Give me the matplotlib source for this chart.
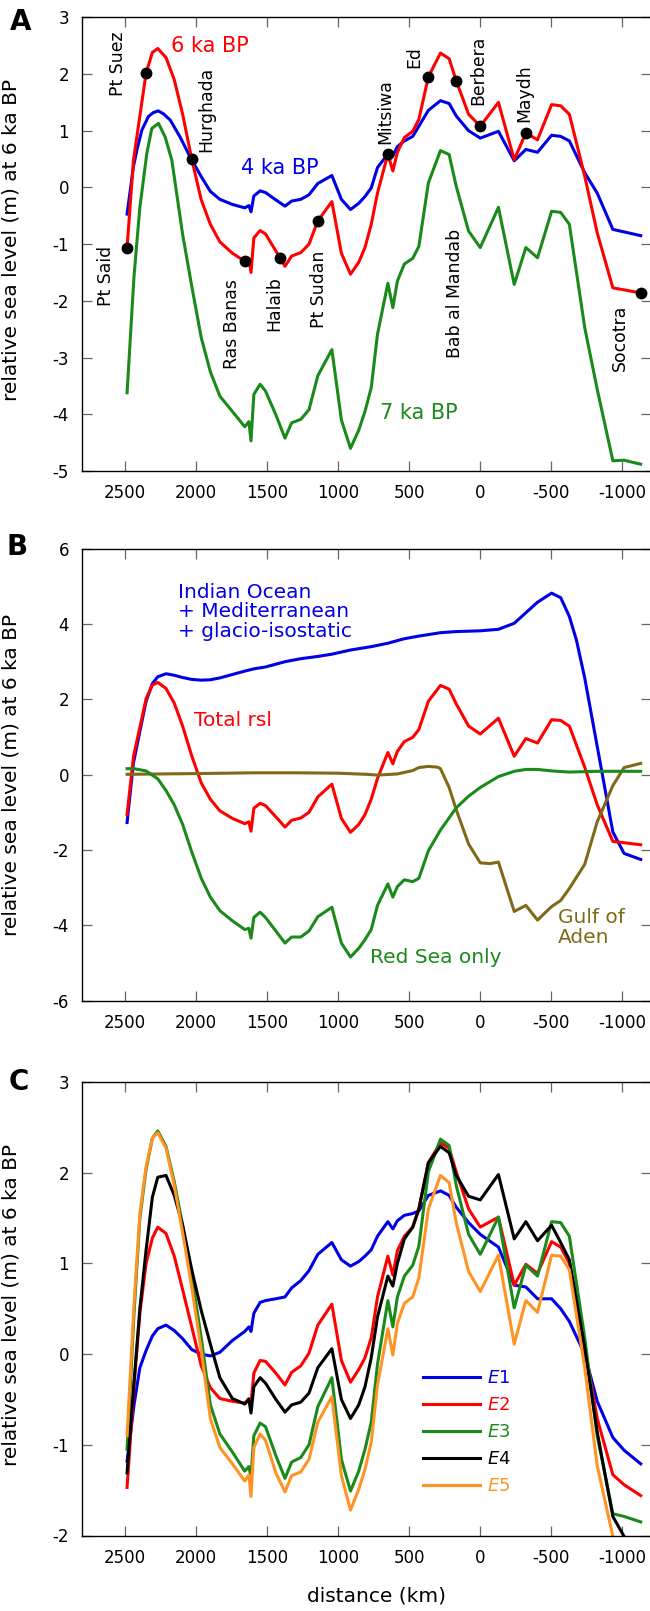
#!/usr/bin/env python3
"""
Relative sea level at 6 ka BP along the Red Sea / Gulf of Aden profile.
A: 4, 6 and 7 ka BP predictions with tide-gauge sites
B: decomposition of the 6 ka BP signal
C: sensitivity to earth models E1-E5
"""
import matplotlib
matplotlib.use("Agg")
import matplotlib.pyplot as plt

plt.rcParams['font.family'] = ['DejaVu Sans']
plt.rcParams['axes.unicode_minus'] = False
plt.rcParams['mathtext.fontset'] = 'dejavusans'

RED = '#ff0000'
BLUE = '#0000e6'
GREEN = '#1a8a1a'
BROWN = '#806a1a'
ORANGE = '#ff9324'

# ---------------- panel A ----------------
dist_6ka = [2485, 2440, 2351, 2307, 2269, 2211, 2153, 2094, 2030, 1963, 1899, 1832, 1744,
            1657, 1628, 1613, 1593, 1549, 1511, 1409, 1374, 1327, 1263, 1205, 1143, 1044,
            977, 913, 855, 811, 767, 723, 650, 615, 583, 534, 475, 432, 365, 280, 219, 169,
            82, 0, -128, -239, -321, -403, -502, -566, -627, -735, -823, -933, -1129]
rsl_6ka = [-1.06, 0.48, 2.02, 2.38, 2.45, 2.29, 1.90, 1.29, 0.50, -0.22, -0.65, -0.96, -1.16,
           -1.30, -1.25, -1.50, -0.89, -0.76, -0.82, -1.24, -1.39, -1.21, -1.15, -1.00, -0.59, -0.25,
           -1.16, -1.53, -1.32, -1.06, -0.65, -0.10, 0.59, 0.29, 0.62, 0.88, 0.99, 1.20, 1.95, 2.37, 2.27, 1.88,
           1.29, 1.08, 1.50, 0.49, 0.96, 0.84, 1.46, 1.44, 1.29, 0.20, -0.80, -1.77, -1.86]

dist_4ka = [2485, 2440, 2416, 2381, 2335, 2300, 2266, 2230, 2182, 2112, 2042, 1963, 1899, 1832,
            1744, 1657, 1628, 1613, 1593, 1549, 1511, 1438, 1374, 1327, 1263, 1205, 1143, 1044,
            977, 913, 855, 811, 767, 723, 650, 615, 583, 534, 475, 432, 365, 280, 219, 169, 82,
            0, -128, -239, -321, -403, -502, -566, -627, -735, -823, -933, -1129]
rsl_4ka = [-0.47, 0.37, 0.66, 1.01, 1.25, 1.32, 1.35, 1.30, 1.19, 0.89, 0.54, 0.19, -0.07, -0.21,
           -0.30, -0.36, -0.32, -0.43, -0.15, -0.06, -0.09, -0.22, -0.33, -0.24, -0.21, -0.13, 0.07, 0.21,
           -0.21, -0.39, -0.28, -0.16, -0.01, 0.35, 0.59, 0.56, 0.72, 0.82, 0.90, 1.08, 1.36, 1.53, 1.48, 1.26, 1.00,
           0.87, 0.99, 0.47, 0.67, 0.62, 0.92, 0.90, 0.82, 0.26, -0.10, -0.74, -0.85]

dist_7ka = [2485, 2436, 2395, 2346, 2311, 2264, 2217, 2170, 2094, 2030, 1963, 1899, 1832, 1744,
            1657, 1628, 1613, 1593, 1549, 1511, 1438, 1374, 1327, 1263, 1205, 1143, 1044, 977,
            913, 855, 811, 767, 723, 650, 615, 583, 534, 475, 432, 365, 280, 219, 169, 82, 0,
            -128, -239, -321, -403, -502, -566, -627, -735, -823, -933, -1012, -1129]
rsl_7ka = [-3.62, -1.56, -0.35, 0.60, 1.04, 1.13, 0.89, 0.48, -0.83, -1.74, -2.65, -3.25, -3.68, -3.95,
           -4.22, -4.13, -4.47, -3.65, -3.47, -3.59, -4.01, -4.42, -4.15, -4.09, -3.92, -3.32, -2.86, -4.10,
           -4.60, -4.28, -3.95, -3.53, -2.59, -1.69, -2.12, -1.65, -1.35, -1.25, -1.04, 0.08, 0.65, 0.58, 0.02, -0.77, -1.06,
           -0.35, -1.71, -1.06, -1.24, -0.42, -0.44, -0.65, -2.47, -3.56, -4.82, -4.81, -4.88]

# sites marked on the 6 ka BP curve
site_dist = [2485, 2351, 2030, 1657, 1409, 1143, 650, 365, 169, 0, -321, -1129]
site_rsl = [-1.06, 2.02, 0.50, -1.30, -1.24, -0.59, 0.59, 1.95, 1.88, 1.08, 0.96, -1.86]

# site names: (name, distance, bottom of label)
site_names = [
    ("Pt Said", 2634, -2.09), ("Pt Suez", 2547, 1.62), ("Hurghada", 1928, 0.62),
    ("Ras Banas", 1744, -3.21), ("Halaib", 1447, -2.54), ("Pt Sudan", 1132, -2.48),
    ("Mitsiwa", 665, 0.76), ("Ed", 467, 2.10), ("Berbera", 15, 1.46),
    ("Maydh", -312, 1.16), ("Bab al Mandab", 175, -3.01), ("Socotra", -983, -3.24),
]

# ---------------- panel B ----------------
dist_io = [2485, 2440, 2395, 2351, 2307, 2269, 2211, 2153, 2094, 2030, 1963, 1899, 1832, 1744,
           1657, 1593, 1511, 1374, 1263, 1143, 1044, 913, 767, 650, 534, 432, 280, 169, 0,
           -128, -239, -403, -502, -566, -627, -677, -735, -823, -933, -1012, -1129]
rsl_io = [-1.27, 0.31, 1.15, 1.95, 2.42, 2.60, 2.68, 2.64, 2.58, 2.53, 2.51, 2.52, 2.57, 2.66,
          2.75, 2.81, 2.86, 3.00, 3.08, 3.14, 3.20, 3.31, 3.40, 3.49, 3.61, 3.68, 3.77, 3.80, 3.82,
          3.86, 4.02, 4.58, 4.82, 4.70, 4.20, 3.57, 2.57, 0.75, -1.52, -2.09, -2.25]

dist_rs = [2485, 2436, 2351, 2269, 2211, 2153, 2094, 2030, 1963, 1899, 1832, 1744, 1657, 1628,
           1613, 1593, 1549, 1511, 1438, 1374, 1327, 1263, 1205, 1143, 1044, 977, 913, 855, 811,
           767, 723, 650, 615, 583, 534, 475, 432, 365, 280, 169, 82, 0, -128, -239, -321, -403,
           -502, -627, -823, -1129]
rsl_rs = [0.16, 0.16, 0.10, -0.11, -0.42, -0.80, -1.32, -2.05, -2.75, -3.25, -3.61, -3.88, -4.11, -4.08,
          -4.34, -3.79, -3.65, -3.79, -4.15, -4.47, -4.31, -4.31, -4.15, -3.77, -3.52, -4.47, -4.84, -4.61, -4.38,
          -4.11, -3.47, -2.90, -3.25, -2.97, -2.79, -2.84, -2.75, -2.02, -1.47, -0.88, -0.57, -0.34, -0.05, 0.09, 0.14, 0.14,
          0.10, 0.07, 0.09, 0.09]

dist_ga = [2485, 2000, 1600, 1300, 1000, 800, 723, 583, 475, 432, 365, 300, 280, 219, 169, 82, 0,
           -70, -128, -239, -321, -403, -502, -566, -627, -735, -823, -933, -1012, -1129]
rsl_ga = [0.01, 0.03, 0.05, 0.05, 0.04, 0.01, -0.01, 0.02, 0.11, 0.19, 0.22, 0.20, 0.16, -0.34, -0.93, -1.84, -2.34,
          -2.36, -2.32, -3.63, -3.47, -3.86, -3.50, -3.34, -3.02, -2.38, -1.25, -0.29, 0.19, 0.30]

# ---------------- panel C ----------------
dist_e = [2485, 2436, 2395, 2351, 2307, 2269, 2211, 2153, 2094, 2030, 1963, 1899, 1832, 1744,
          1657, 1628, 1613, 1593, 1549, 1511, 1438, 1374, 1327, 1263, 1205, 1143, 1044, 977,
          913, 855, 811, 767, 723, 650, 615, 583, 534, 475, 432, 365, 280, 219, 169, 82, 0,
          -128, -239, -321, -403, -502, -566, -627, -735, -823, -933, -1012, -1129]
rsl_e1 = [-1.18, -0.56, -0.15, 0.04, 0.20, 0.28, 0.32, 0.26, 0.17, 0.05, 0.00, -0.02, 0.02, 0.15,
          0.25, 0.30, 0.25, 0.45, 0.57, 0.59, 0.61, 0.63, 0.73, 0.81, 0.92, 1.10, 1.23, 1.04,
          0.97, 1.02, 1.08, 1.15, 1.30, 1.46, 1.38, 1.47, 1.53, 1.55, 1.58, 1.75, 1.80, 1.75, 1.62, 1.45, 1.32,
          1.18, 0.76, 0.74, 0.61, 0.61, 0.50, 0.36, 0.00, -0.52, -0.92, -1.06, -1.21]
rsl_e2 = [-1.47, -0.35, 0.45, 1.00, 1.28, 1.40, 1.33, 1.08, 0.71, 0.30, -0.13, -0.37, -0.49, -0.52,
          -0.54, -0.49, -0.55, -0.21, -0.07, -0.08, -0.21, -0.34, -0.20, -0.13, 0.01, 0.32, 0.55, -0.07,
          -0.31, -0.17, -0.04, 0.18, 0.63, 1.08, 0.87, 1.14, 1.30, 1.40, 1.60, 2.11, 2.33, 2.27, 2.01, 1.60, 1.40,
          1.51, 0.76, 0.99, 0.89, 1.24, 1.18, 1.00, 0.07, -0.71, -1.33, -1.44, -1.56]
rsl_e3 = [-1.05, 0.45, 1.50, 2.04, 2.38, 2.46, 2.29, 1.90, 1.42, 0.86, 0.18, -0.56, -0.88, -1.08,
          -1.29, -1.24, -1.35, -0.90, -0.76, -0.80, -1.12, -1.37, -1.19, -1.14, -1.00, -0.58, -0.26, -1.16,
          -1.51, -1.29, -1.05, -0.75, -0.11, 0.59, 0.30, 0.63, 0.86, 0.98, 1.19, 2.01, 2.37, 2.30, 1.86, 1.32, 1.10,
          1.51, 0.51, 0.98, 0.86, 1.46, 1.45, 1.30, 0.18, -0.90, -1.76, -1.79, -1.85]
rsl_e4 = [-1.31, -0.30, 0.50, 1.15, 1.73, 1.95, 1.97, 1.75, 1.42, 0.93, 0.48, 0.11, -0.26, -0.49,
          -0.55, -0.50, -0.65, -0.36, -0.26, -0.32, -0.50, -0.64, -0.56, -0.53, -0.43, -0.15, 0.06, -0.50,
          -0.71, -0.56, -0.36, -0.04, 0.41, 0.86, 0.75, 1.00, 1.27, 1.40, 1.60, 2.11, 2.29, 2.22, 1.97, 1.74, 1.70,
          1.98, 1.27, 1.46, 1.25, 1.42, 1.23, 1.04, 0.07, -0.86, -1.79, -2.01, -2.31]
rsl_e5 = [-0.90, 0.55, 1.55, 2.07, 2.38, 2.44, 2.27, 1.86, 1.34, 0.74, 0.04, -0.71, -1.03, -1.21,
          -1.40, -1.33, -1.57, -1.03, -0.88, -0.95, -1.31, -1.52, -1.34, -1.30, -1.16, -0.75, -0.47, -1.34,
          -1.72, -1.49, -1.27, -0.97, -0.34, 0.28, -0.01, 0.34, 0.56, 0.63, 0.84, 1.60, 1.97, 1.89, 1.45, 0.91, 0.69,
          1.09, 0.11, 0.59, 0.46, 1.09, 1.08, 0.93, -0.15, -1.23, -2.01, -2.39, -2.60]
model_names = [r'$\mathit{E}$1', r'$\mathit{E}$2', r'$\mathit{E}$3', r'$\mathit{E}$4', r'$\mathit{E}$5']

X_TICKS = [2500, 2000, 1500, 1000, 500, 0, -500, -1000]
YLABEL = 'relative sea level (m) at 6 ka BP'
LW = 2.2


def style_axis(ax, yticks, ylim):
    ax.set_xlim(2800, -1200)
    ax.set_ylim(*ylim)
    ax.set_xticks(X_TICKS)
    ax.set_yticks(yticks)
    ax.tick_params(direction='in', length=6.9, width=0.9, color='#666666',
                   top=True, right=True, labelsize=12, pad=9.5)
    for sp in ax.spines.values():
        sp.set_linewidth(1.0)
    ax.set_ylabel(YLABEL, fontsize=14.5)


def main():
    W, H = 650, 1611
    fig = plt.figure(figsize=(W / 100, H / 100), dpi=100)

    def rect(top, bottom):
        left, right = 82.3, 650.8
        return [left / W, 1 - bottom / H, (right - left) / W, (bottom - top) / H]

    # --- A ---
    ax1 = fig.add_axes(rect(17.3, 471))
    ax1.plot(dist_7ka, rsl_7ka, color=GREEN, lw=LW)
    ax1.plot(dist_4ka, rsl_4ka, color=BLUE, lw=LW)
    ax1.plot(dist_6ka, rsl_6ka, color=RED, lw=LW)
    ax1.plot(site_dist, site_rsl, 'o', color='black', ms=7.5, zorder=5, clip_on=False)
    for name, d, y in site_names:
        ax1.text(d, y, name, rotation=90, ha='center', va='bottom', fontsize=12.4)
    ax1.text(1905, 2.50, '6 ka BP', color=RED, fontsize=15, ha='center', va='center')
    ax1.text(1409, 0.35, '4 ka BP', color=BLUE, fontsize=15, ha='center', va='center')
    ax1.text(429, -3.98, '7 ka BP', color=GREEN, fontsize=15, ha='center', va='center')
    style_axis(ax1, range(-5, 4), (-5, 3))
    ax1.yaxis.set_label_coords(-0.108, 0.51)

    # --- B ---
    ax2 = fig.add_axes(rect(548.7, 1000.7))
    ax2.plot(dist_io, rsl_io, color=BLUE, lw=LW)
    ax2.plot(dist_6ka, rsl_6ka, color=RED, lw=LW)
    ax2.plot(dist_ga, rsl_ga, color=BROWN, lw=LW)
    ax2.plot(dist_rs, rsl_rs, color=GREEN, lw=LW)
    ax2.text(2129, 4.32, 'Indian Ocean\n+ Mediterranean\n+ glacio-isostatic', color=BLUE,
             fontsize=14.5, ha='left', va='center', linespacing=1.05)
    ax2.text(1741, 1.43, 'Total rsl', color=RED, fontsize=14.5, ha='center', va='center')
    ax2.text(773, -4.86, 'Red Sea only', color=GREEN, fontsize=14.5, ha='left', va='center')
    ax2.text(-545, -4.05, 'Gulf of\nAden', color=BROWN, fontsize=14.5, ha='left', va='center',
             linespacing=1.05)
    style_axis(ax2, range(-6, 7, 2), (-6, 6))
    ax2.yaxis.set_label_coords(-0.108, 0.5)

    # --- C ---
    ax3 = fig.add_axes(rect(1082, 1535.5))
    for vals, col, lab in zip([rsl_e1, rsl_e2, rsl_e3, rsl_e4, rsl_e5],
                              [BLUE, RED, GREEN, 'black', ORANGE], model_names):
        ax3.plot(dist_e, vals, color=col, lw=LW, label=lab)
    style_axis(ax3, range(-2, 4), (-2, 3))
    ax3.yaxis.set_label_coords(-0.108, 0.508)
    ax3.set_xlabel('distance (km)', fontsize=14.5)
    ax3.xaxis.set_label_coords(0.518, -0.112)
    ax3.legend(loc='upper left', bbox_to_anchor=(423 / W, 1 - 1369 / H),
               bbox_transform=fig.transFigure, frameon=False, fontsize=13,
               handlelength=3.17, handletextpad=0.4, labelspacing=0.5,
               borderpad=0, borderaxespad=0, labelcolor='linecolor')

    # panel letters
    for letter, x, y in [('A', 21, 22.5), ('B', 17.5, 547), ('C', 18.5, 1082)]:
        fig.text(x / W, 1 - y / H, letter, fontsize=20, fontweight='bold',
                 ha='center', va='center')

    fig.savefig('out.png', dpi=100, facecolor='white')
    plt.close(fig)


if __name__ == "__main__":
    main()
